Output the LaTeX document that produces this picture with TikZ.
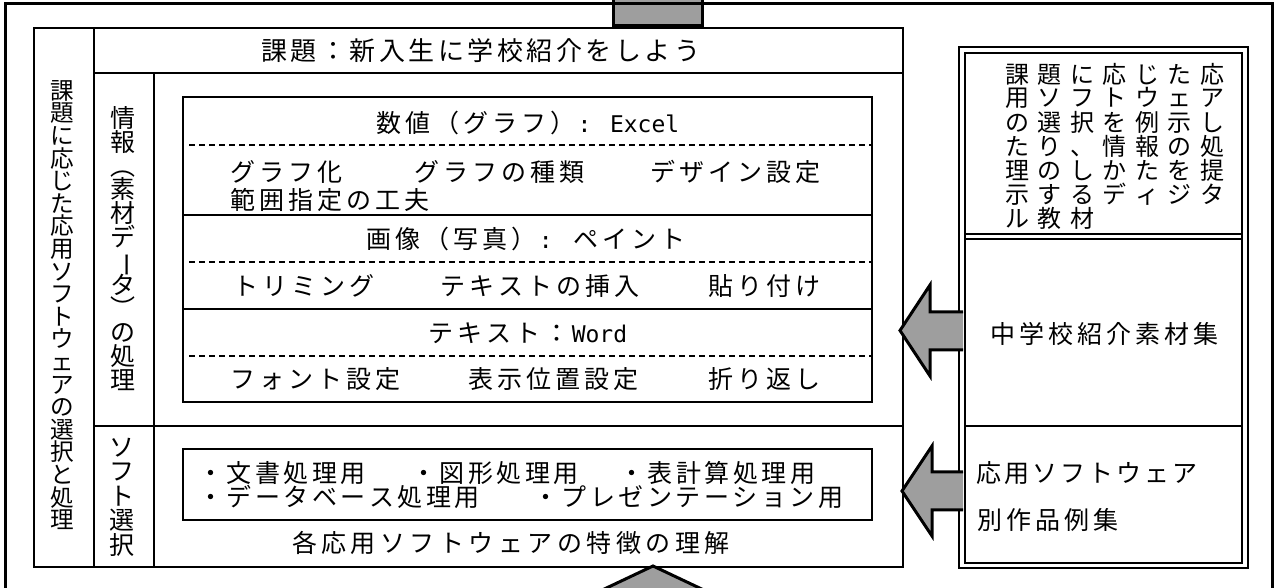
\documentclass[tikz,border=0pt]{standalone}
\usepackage{fontspec}
\setmainfont{Noto Sans CJK JP}
\newfontfamily\latm{DejaVu Sans Mono}
\newdimen\chpitch
\def\spx#1{\ifx#1\relax\else\hbox to\chpitch{\hss#1\hss}\expandafter\spx\fi}
\newcommand\sps[2]{\chpitch=#1\relax\spx#2\relax}
\def\vx#1{\ifx#1\relax\else\hbox to 1em{\hss#1\hss}\expandafter\vx\fi}
\newcommand\vtext[2]{\vbox{\baselineskip=#1\relax\lineskiplimit=-\maxdimen\vx#2\relax}}
\newcommand\vchoon{\rotatebox[origin=c]{-90}{ー}}
\begin{document}
\begin{tikzpicture}[x=0.5pt,y=-0.5pt,
  ln/.style={line width=1pt},
  dsh/.style={line width=0.9pt, dash pattern=on 3pt off 2pt},
  jt/.style={inner sep=0pt, font=\fontsize{12.5pt}{15pt}\selectfont},
  vt/.style={inner sep=0pt, font=\fontsize{12pt}{12pt}\selectfont},
  blk/.style={fill=black!38, draw=black, line width=1.5pt, line join=miter}]
\useasboundingbox (0,0) rectangle (1276,588);
\clip (0,0) rectangle (1276,588);

% top arrow shaft and outer frame
\draw[blk] (613,-30) rectangle (702,26);
\draw[line width=1.5pt] (5.5,620) -- (5.5,3.5) -- (1272,3.5) -- (1272,620);

% main frame
\draw[ln] (34,28) rectangle (903,567);
\draw[ln] (94,28) -- (94,567);
\draw[ln] (94,73) -- (903,73);
\draw[ln] (154,73) -- (154,567);
\draw[ln] (94,426) -- (903,426);

% inner information box
\draw[ln] (183,97) rectangle (872,402);
\draw[dsh] (189,145) -- (872,145);
\draw[ln] (183,215) -- (872,215);
\draw[dsh] (189,262) -- (872,262);
\draw[ln] (183,309) -- (872,309);
\draw[dsh] (189,356) -- (872,356);

% software box
\draw[ln] (183,449) rectangle (872,520);

% right box
\draw[ln] (959,47) rectangle (1248,568);
\draw[ln] (965,53) rectangle (1242,563);
\draw[ln] (965,234) -- (1242,234);
\draw[ln] (965,239) -- (1242,239);
\draw[ln] (965,426) -- (1242,426);

% left-pointing block arrows
\fill[black!38] (963,312) -- (930,312) -- (930,285) -- (900,330.5) -- (930,376) -- (930,350) -- (963,350) -- cycle;
\draw[line width=1.5pt, line join=miter] (963,312) -- (930,312) -- (930,285) -- (900,330.5) -- (930,376) -- (930,350) -- (963,350);
\fill[black!38] (963,472) -- (932,472) -- (932,446) -- (902,491) -- (932,536) -- (932,510) -- (963,510) -- cycle;
\draw[line width=1.5pt, line join=miter] (963,472) -- (932,472) -- (932,446) -- (902,491) -- (932,536) -- (932,510) -- (963,510);

% bottom arrow head
\draw[blk] (653,566) -- (763,618) -- (543,618) -- cycle;

% vertical texts
\node[vt, font=\fontsize{11.8pt}{12pt}\selectfont] (c1) at (62,305) {\vtext{11.3pt}{課題に応じた応用ソフトウェアの選択と処理}};
\node[vt, font=\fontsize{12.5pt}{12pt}\selectfont] (c2) at (123,248.5) {\vtext{11.9pt}{情報︵素材デ\vchoon タ︶の処理}};
\node[vt, font=\fontsize{12.5pt}{12pt}\selectfont] (c3) at (122,497) {\vtext{12.25pt}{ソフト選択}};

% title
\node[jt, font=\fontsize{13pt}{15pt}\selectfont] (title) at (481,51) {\sps{14.75pt}{課題：新入生に学校紹介をしよう}};

% information rows
\node[jt] (r1) at (527,123) {\sps{14.5pt}{数値（グラフ）}{\fontsize{11.5pt}{12pt}\latm: Excel}};
\node[jt, anchor=west] (r2a) at (228,172) {\sps{14.5pt}{グラフ化}};
\node[jt, anchor=west] (r2b) at (412,172) {\sps{14.5pt}{グラフの種類}};
\node[jt, anchor=west] (r2c) at (648,172) {\sps{14.5pt}{デザイン設定}};
\node[jt, anchor=west] (r2d) at (228,200) {\sps{14.5pt}{範囲指定の工夫}};
\node[jt] (r3) at (526,239) {\sps{14.5pt}{画像（写真）}{\fontsize{11.5pt}{12pt}\latm: }\sps{14.5pt}{ペイント}};
\node[jt, anchor=west] (r4a) at (231,286) {\sps{14.5pt}{トリミング}};
\node[jt, anchor=west] (r4b) at (438,286) {\sps{14.5pt}{テキストの挿入}};
\node[jt, anchor=west] (r4c) at (706,286) {\sps{14.5pt}{貼り付け}};
\node[jt] (r5) at (527,333) {\sps{14.5pt}{テキスト：}{\fontsize{11.5pt}{12pt}\latm Word}};
\node[jt, anchor=west] (r6a) at (228,379) {\sps{14.5pt}{フォント設定}};
\node[jt, anchor=west] (r6b) at (466,379) {\sps{14.5pt}{表示位置設定}};
\node[jt, anchor=west] (r6c) at (706,379) {\sps{14.5pt}{折り返し}};

% software rows
\node[jt, anchor=west] (s1a) at (196,473) {\sps{14.25pt}{・文書処理用}};
\node[jt, anchor=west] (s1b) at (409,473) {\sps{14.25pt}{・図形処理用}};
\node[jt, anchor=west] (s1c) at (617,473) {\sps{14.25pt}{・表計算処理用}};
\node[jt, anchor=west] (s2a) at (196,497) {\sps{14.25pt}{・データベース処理用}};
\node[jt, anchor=west] (s2b) at (531,497) {\sps{14.25pt}{・プレゼンテーション用}};
\node[jt] (feat) at (511,543) {\sps{14.75pt}{各応用ソフトウェアの特徴の理解}};

% right box texts
\node[vt, anchor=west] (g1) at (1000.5,74) {\sps{16.25pt}{課題に応じた応}};
\node[vt, anchor=west] (g2) at (1000.5,98) {\sps{16.25pt}{用ソフトウェア}};
\node[vt, anchor=west] (g3) at (1000.5,122) {\sps{16.25pt}{の選択を例示し}};
\node[vt, anchor=west] (g4) at (1000.5,146) {\sps{16.25pt}{たり、情報の処}};
\node[vt, anchor=west] (g5) at (1000.5,170) {\sps{16.25pt}{理のしかたを提}};
\node[vt, anchor=west] (g6) at (1000.5,194) {\sps{16.25pt}{示するディジタ}};
\node[vt, anchor=west] (g7) at (1000.5,218.5) {\sps{16.25pt}{ル教材}};
\node[jt] (mat) at (1104,334) {\sps{14.5pt}{中学校紹介素材集}};
\node[jt, anchor=west] (ex1) at (975,473.5) {\sps{14pt}{応用ソフトウェア}};
\node[jt, anchor=west] (ex2) at (975,520) {\sps{14.5pt}{別作品例集}};
\end{tikzpicture}
\end{document}
